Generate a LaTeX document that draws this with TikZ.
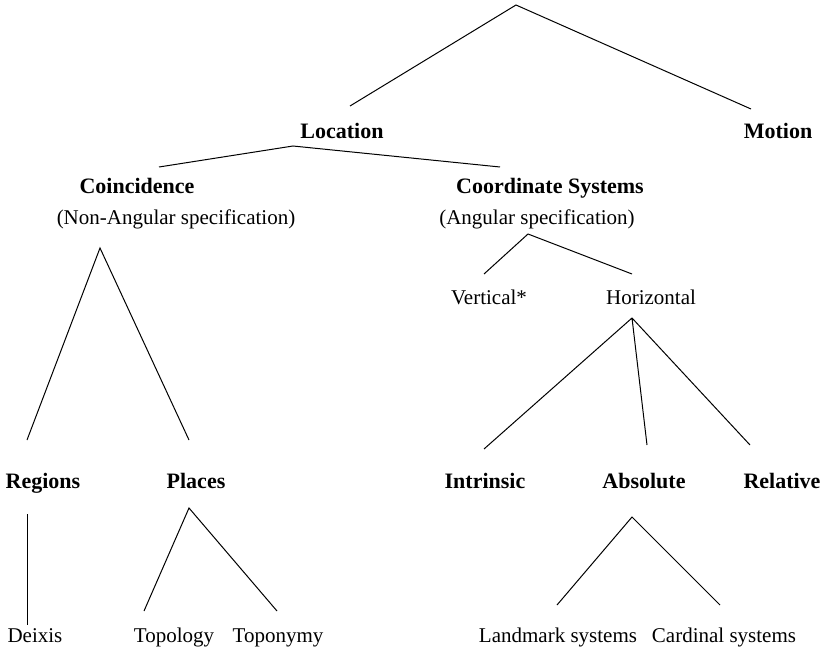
\documentclass[tikz,border=0pt]{standalone}
\usepackage{fontspec}
\setmainfont{Liberation Serif}
\begin{document}
\begin{tikzpicture}[x=1pt,y=-1pt,line width=1pt,
    every node/.style={anchor=base,inner sep=0pt,font=\fontsize{21}{25}\selectfont},
    head/.style={font=\fontsize{22}{26}\selectfont\bfseries}]
      \useasboundingbox (0,0) rectangle (829,650);
      % labels
      \node[head] (loc) at (342,138) {Location};
      \node[head] (mot) at (778,138) {Motion};
      \node[head] (coin) at (137,193) {Coincidence};
      \node[head] (csys) at (550,193) {Coordinate Systems};
      \node (nonang) at (176,224) {(Non-Angular specification)};
      \node (ang) at (537,224) {(Angular specification)};
      \node (vert) at (489,304) {Vertical*};
      \node (hor) at (651,304) {Horizontal};
      \node[head] (reg) at (43,488) {Regions};
      \node[head] (pla) at (196,488) {Places};
      \node[head] (intr) at (485,488) {Intrinsic};
      \node[head] (abs) at (644,488) {Absolute};
      \node[head] (rel) at (782,488) {Relative};
      \node (deix) at (35,642) {Deixis};
      \node (topol) at (174,642) {Topology};
      \node (topon) at (278,642) {Toponymy};
      \node (land) at (558,642) {Landmark systems};
      \node (card) at (724,642) {Cardinal systems};
      % branch points
      \coordinate (root) at (516,5);
      \coordinate (locup) at (350,106);
      \coordinate (motup) at (751,109);
      \coordinate (locdn) at (293,146);
      \coordinate (coinup) at (159,167);
      \coordinate (csysup) at (500,167);
      \coordinate (nonangdn) at (100,248);
      \coordinate (angdn) at (528,234);
      \coordinate (vertup) at (484,274);
      \coordinate (horup) at (632,274);
      \coordinate (hordn) at (632,318);
      \coordinate (regup) at (27,440);
      \coordinate (plaup) at (189,440);
      \coordinate (intrup) at (484,449);
      \coordinate (absup) at (647,445);
      \coordinate (relup) at (750,445);
      \coordinate (regdn) at (27,514);
      \coordinate (deixup) at (27,625);
      \coordinate (pladn) at (189,508);
      \coordinate (topolup) at (144,611);
      \coordinate (toponup) at (277,611);
      \coordinate (absdn) at (632,517);
      \coordinate (landup) at (557,605);
      \coordinate (cardup) at (720,605);
      % branches
      \draw (locup) -- (root) -- (motup);
      \draw (coinup) -- (locdn) -- (csysup);
      \draw (regup) -- (nonangdn) -- (plaup);
      \draw (vertup) -- (angdn) -- (horup);
      \draw (intrup) -- (hordn) -- (relup) (hordn) -- (absup);
      \draw (regdn) -- (deixup);
      \draw (topolup) -- (pladn) -- (toponup);
      \draw (landup) -- (absdn) -- (cardup);
    \end{tikzpicture}
\end{document}
